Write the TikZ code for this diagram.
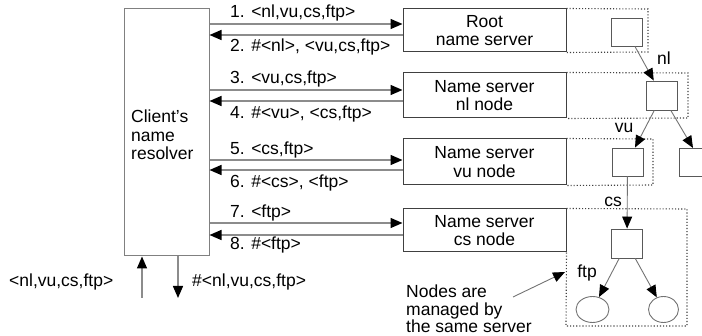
\documentclass[tikz,border=0pt]{standalone}
\usepackage{fontspec}
\setmainfont{Liberation Sans}
\usetikzlibrary{arrows.meta,shapes.geometric}
\begin{document}
\begin{tikzpicture}[x=1pt,y=-1pt,
  every node/.style={font=\fontsize{17.5}{18.5}\selectfont, inner sep=0pt},
  lbl/.style={anchor=west, text height=12.5pt, text depth=3.5pt},
  srv/.style={draw=black!75, line width=1pt, minimum width=163pt, align=center},
  msg/.style={draw=black!45, line width=1.4pt, -{Triangle[length=12pt,width=10pt,black]}},
  sq/.style={draw=black!65, line width=0.9pt, minimum width=31pt, minimum height=28pt},
  treeedge/.style={draw=black!55, line width=0.9pt, -{Triangle[length=12pt,width=10pt,black]}},
  zone/.style={draw=black!75, dotted, line width=1.1pt}]
\useasboundingbox (0,0) rectangle (702,336);

% client
\node[draw=black!50, line width=1pt, minimum width=85pt, minimum height=247pt] (client) at (166.5,132.5) {};
\node[anchor=west, align=left] (clienttext) at (131,135) {Client{\char39}s\\name\\resolver};

% servers
\node[srv, minimum height=43pt] (root) at (484.5,30.5) {Root\\name server};
\node[srv, minimum height=45pt] (nl) at (484.5,95.5) {Name server\\nl node};
\node[srv, minimum height=46pt] (vu) at (484.5,162) {Name server\\vu node};
\node[srv, minimum height=43pt] (cs) at (484.5,230.5) {Name server\\cs node};

% messages
\draw[msg] (client.east |- 0,24) -- (root.west |- 0,24);
\draw[msg] (root.west |- 0,35) -- (client.east |- 0,35);
\draw[msg] (client.east |- 0,90) -- (nl.west |- 0,90);
\draw[msg] (nl.west |- 0,101) -- (client.east |- 0,101);
\draw[msg] (client.east |- 0,160) -- (vu.west |- 0,160);
\draw[msg] (vu.west |- 0,170) -- (client.east |- 0,170);
\draw[msg] (client.east |- 0,223) -- (cs.west |- 0,223);
\draw[msg] (cs.west |- 0,235) -- (client.east |- 0,235);

\node[lbl] (m1) at (230,13) {1. <nl,vu,cs,ftp>};
\node[lbl] (m2) at (230,47) {2. \#<nl>, <vu,cs,ftp>};
\node[lbl] (m3) at (230,79) {3. <vu,cs,ftp>};
\node[lbl] (m4) at (230,114) {4. \#<vu>, <cs,ftp>};
\node[lbl] (m5) at (230,150) {5. <cs,ftp>};
\node[lbl] (m6) at (230,183) {6. \#<cs>, <ftp>};
\node[lbl] (m7) at (230,213) {7. <ftp>};
\node[lbl] (m8) at (230,245) {8. \#<ftp>};

% input / output
\coordinate (inp) at (142,298);
\coordinate (outp) at (178,298);
\draw[msg] (inp) -- (inp |- client.south);
\draw[msg] (outp |- client.south) -- (outp);
\node[lbl] (inlbl) at (9,282) {<nl,vu,cs,ftp>};
\node[lbl] (outlbl) at (192,282) {\#<nl,vu,cs,ftp>};

% zones
\draw[zone] (root.north east) -- (648,9) -- (648,52) -- (root.south east);
\draw[zone] (nl.north east) -- (688,73) -- (688,118) -- (nl.south east);
\draw[zone] (vu.north east) -- (653,139) -- (653,185) -- (vu.south east);
\draw[zone] (cs.north east) -- (687,209) -- (687,326) -- (566,326) -- (cs.south east);

% tree
\node[sq] (r0) at (627,32) {};
\node[sq, minimum height=29pt] (n1) at (662,95.5) {};
\node[sq] (v0) at (627.5,162) {};
\node[sq, minimum height=29pt] (c0) at (627,243.5) {};
\draw[draw=black!65, line width=0.9pt] (703,148) -- (679,148) -- (679,176) -- (703,176);
\coordinate (rs) at (693,148);
\node[ellipse, draw=black!55, line width=0.9pt, minimum width=33pt, minimum height=26pt] (f1) at (592.5,309.5) {};
\node[ellipse, draw=black!55, line width=0.9pt, minimum width=30pt, minimum height=26pt] (f2) at (663.5,309.5) {};

\draw[treeedge] (r0) -- (n1);
\draw[treeedge] (n1) -- (v0);
\draw[treeedge] (n1) -- (rs);
\draw[treeedge] (v0) -- (c0);
\draw[treeedge] (c0) -- (f1);
\draw[treeedge] (c0) -- (f2);

\node[lbl, anchor=center] (lnl) at (664,60) {nl};
\node[lbl, anchor=center] (lvu) at (624,128) {vu};
\node[lbl, anchor=center] (lcs) at (613,202) {cs};
\node[lbl, anchor=center] (lftp) at (587,273) {ftp};

% note
\node[anchor=west, align=left, font=\fontsize{17.5}{17.5}\selectfont] (note) at (406,309) {Nodes are\\managed by\\the same server};
\coordinate (nt) at (513,297);
\coordinate (nh) at (565,272);
\draw[treeedge] (nt) -- (nh);
\end{tikzpicture}
\end{document}
